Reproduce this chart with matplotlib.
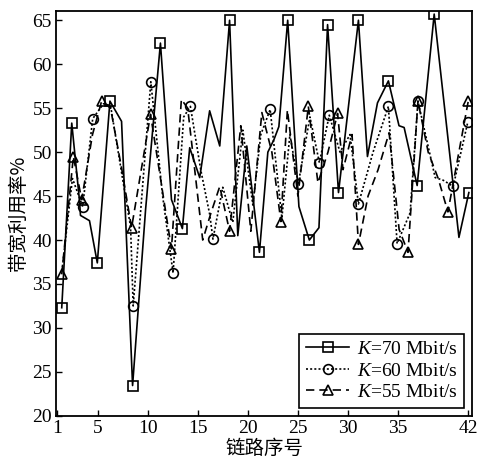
import matplotlib
matplotlib.use('Agg')
import matplotlib.pyplot as plt

# link index / bandwidth utilisation (%)
k70_x = [1.43, 2.43, 3.2, 3.3, 4.2, 4.98, 6.24, 7.4, 8.5, 9.8, 11.28, 12.38, 13.47, 14.2, 15.2,
         16.19, 17.2, 18.18, 19.0, 19.9, 21.16, 22.0, 22.6, 23.1, 23.98, 25.1, 26.14, 27.1,
         27.96, 29.05, 31.04, 31.94, 32.94, 34.03, 35.09, 35.6, 36.9, 38.6, 41.07, 42.06]
k70_y = [32.3, 53.3, 44.5, 42.8, 42.2, 37.4, 55.8, 53.5, 23.45, 43.5, 62.4, 44.6, 41.3, 50.5, 47.1,
         54.7, 50.7, 65.0, 40.5, 50.7, 38.6, 50.0, 51.4, 52.9, 65.0, 43.8, 40.0, 41.4,
         64.5, 45.4, 65.0, 49.5, 55.6, 58.1, 53.0, 52.8, 46.2, 65.7, 40.3, 45.4]
k70_mark = [0, 1, 5, 6, 8, 10, 12, 17, 20, 24, 26, 28, 29, 30, 33, 36, 37, 39]

k60_x = [1.45, 2.5, 3.52, 4.52, 5.6, 6.3, 7.5, 8.3, 8.56, 10.32, 11.5, 12.54, 13.6, 14.27, 15.3,
         16.2, 16.52, 17.5, 18.5, 19.5, 20.5, 21.3, 22.23, 23.4, 24.2, 25.04, 26.2, 27.14,
         28.13, 29.2, 30.2, 31.04, 32.5, 34.03, 34.9, 36.2, 36.98, 38.7, 39.5, 40.5, 41.96]
k60_y = [36.5, 47.0, 43.8, 53.8, 55.5, 55.3, 47.0, 41.5, 32.5, 58.0, 45.0, 36.25, 54.0, 55.2, 48.0,
         42.9, 40.1, 46.0, 42.0, 52.5, 44.0, 52.0, 54.85, 42.5, 52.0, 46.4, 54.0, 48.8,
         54.2, 50.0, 52.0, 44.1, 50.0, 55.2, 39.6, 43.1, 55.8, 47.1, 46.8, 46.1, 53.45]
k60_mark = [2, 3, 8, 9, 11, 13, 16, 22, 25, 27, 28, 31, 33, 34, 36, 39, 40]

k55_x = [1.43, 2.59, 3.42, 4.5, 5.41, 6.3, 7.4, 8.4, 10.29, 12.38, 13.37, 14.0, 15.5, 16.3, 17.2,
         18.18, 19.3, 20.3, 21.4, 22.4, 23.3, 23.95, 25.0, 26.04, 27.0, 28.0, 28.96, 29.5,
         30.4, 31.04, 32.0, 33.0, 34.1, 35.1, 35.99, 36.98, 38.0, 39.0, 39.97, 42.0]
k55_y = [36.1, 49.5, 44.6, 52.0, 55.8, 55.0, 48.2, 41.4, 54.3, 39.0, 56.0, 55.0, 40.0, 43.0, 46.1,
         41.0, 53.0, 41.0, 54.5, 50.0, 42.1, 54.8, 45.0, 55.2, 46.5, 50.0, 54.4, 48.0,
         52.0, 39.5, 45.0, 48.0, 52.2, 41.2, 38.6, 55.8, 50.0, 47.0, 43.2, 55.8]
k55_mark = [0, 1, 2, 4, 7, 8, 9, 15, 20, 23, 26, 29, 34, 35, 38, 39]

x_ticks = [1, 5, 10, 15, 20, 25, 30, 35, 42]
y_ticks = [20, 25, 30, 35, 40, 45, 50, 55, 60, 65]

serif = 'Liberation Serif'
cjk = ['Noto Sans CJK SC', 'DejaVu Sans']

plt.rcParams['mathtext.fontset'] = 'custom'
plt.rcParams['mathtext.it'] = 'Liberation Serif:italic'
plt.rcParams['mathtext.rm'] = 'Liberation Serif'

fig = plt.figure(figsize=(4.78, 4.58), dpi=100)
ax = fig.add_axes([0.117, 0.092, 0.871, 0.883])

common = dict(color='black', lw=1.2, mfc='none', mec='black', mew=1.2, ms=7)
ax.plot(k70_x, k70_y, '-', marker='s', markevery=k70_mark,
        label=r'$\it{K}$=70 Mbit/s', **common)
ax.plot(k60_x, k60_y, linestyle=(0, (1.2, 1.3)), marker='o', markevery=k60_mark,
        label=r'$\it{K}$=60 Mbit/s', **common)
ax.plot(k55_x, k55_y, linestyle=(0, (5, 3)), marker='^', markevery=k55_mark,
        label=r'$\it{K}$=55 Mbit/s', **common)

ax.set_xlim(0.85, 42.4)
ax.set_ylim(20, 66)
ax.set_xticks(x_ticks)
ax.set_yticks(y_ticks)
ax.tick_params(direction='in', length=4, width=1, labelsize=14, top=False, right=False, pad=3)
for lab in ax.get_xticklabels() + ax.get_yticklabels():
    lab.set_fontfamily(serif)
for s in ax.spines.values():
    s.set_linewidth(1.3)

ax.set_xlabel('链路序号', family=cjk, fontsize=14, labelpad=1)
ax.set_ylabel('带宽利用率%', family=cjk, fontsize=14, labelpad=2)

leg = ax.legend(loc='lower right', prop={'family': serif, 'size': 14}, frameon=True,
                fancybox=False, edgecolor='black', framealpha=1, borderaxespad=0.4,
                handlelength=2.2, labelspacing=0.2, borderpad=0.35, handletextpad=0.4)
leg.get_frame().set_linewidth(1.2)

fig.savefig('out.png', dpi=100)
